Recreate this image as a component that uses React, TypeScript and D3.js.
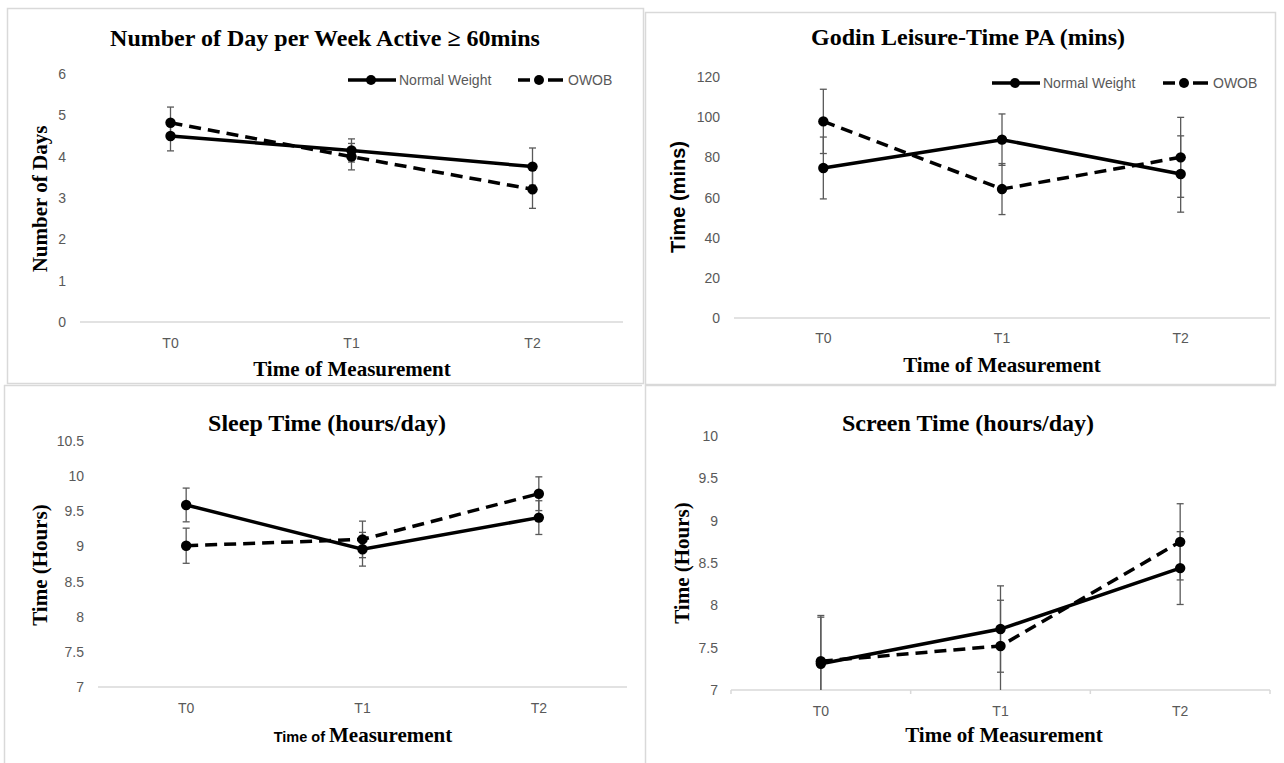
import * as d3 from "d3";

const timePoints = ["T0", "T1", "T2"];

const activeTicks = [0, 1, 2, 3, 4, 5, 6];
const activeNormal = [4.5, 4.15, 3.76];
const activeNormalErr = [0.36, 0.28, 0.45];
const activeOwob = [4.82, 4.0, 3.21];
const activeOwobErr = [0.38, 0.32, 0.46];

const godinTicks = [0, 20, 40, 60, 80, 100, 120];
const godinNormal = [74.7, 88.8, 71.7];
const godinNormalErr = [15.4, 12.8, 19.0];
const godinOwob = [97.9, 64.2, 80.0];
const godinOwobErr = [16.0, 12.7, 19.9];

const sleepTicks = [7, 7.5, 8, 8.5, 9, 9.5, 10, 10.5];
const sleepNormal = [9.59, 8.96, 9.41];
const sleepNormalErr = [0.24, 0.24, 0.24];
const sleepOwob = [9.01, 9.1, 9.75];
const sleepOwobErr = [0.25, 0.26, 0.24];

const screenTicks = [7, 7.5, 8, 8.5, 9, 9.5, 10];
const screenNormal = [7.31, 7.72, 8.44];
const screenNormalErr = [0.55, 0.51, 0.43];
const screenOwob = [7.34, 7.52, 8.75];
const screenOwobErr = [0.54, 0.54, 0.45];

const SERIF = "'Liberation Serif', 'Times New Roman', serif";
const SANS = "'Liberation Sans', Arial, sans-serif";
const GRID = "#d9d9d9";
const TICK_TEXT = "#595959";
const DASH = "12 7";

interface Series {
  values: number[];
  err: number[];
  dashed: boolean;
}

interface PanelProps {
  id: string;
  title: string;
  titleX: number;
  titleY: number;
  x0: number;
  x1: number;
  yBottom: number;
  yTop: number;
  ticks: number[];
  tickRight: number;
  xTickY: number;
  yTitle: string;
  yTitleFont: string;
  yTitleX: number;
  yTitleY: number;
  xTitleX: number;
  xTitleY: number;
  mixedXTitle?: boolean;
  tickMarks?: boolean;
  legend?: { y: number; nw: number; ow: number };
  series: Series[];
}

function Panel(p: PanelProps) {
  const x = d3.scalePoint<string>().domain(timePoints).range([p.x0, p.x1]).padding(0.5);
  const band = d3.scaleBand<string>().domain(timePoints).range([p.x0, p.x1]);
  const y = d3
    .scaleLinear()
    .domain([p.ticks[0], p.ticks[p.ticks.length - 1]])
    .range([p.yBottom, p.yTop]);
  const line = d3
    .line<number>()
    .x((_, i) => x(timePoints[i]) as number)
    .y((d) => y(d));

  return (
    <g>
      <defs>
        <clipPath id={`clip-${p.id}`}>
          <rect x={p.x0} y={p.yTop - 20} width={p.x1 - p.x0} height={p.yBottom - p.yTop + 20} />
        </clipPath>
      </defs>
      <text
        x={p.titleX}
        y={p.titleY}
        textAnchor="middle"
        fontFamily={SERIF}
        fontWeight="bold"
        fontSize={24}
      >
        {p.title}
      </text>

      {p.ticks.map((t) => (
        <text
          key={t}
          x={p.tickRight}
          y={y(t)}
          textAnchor="end"
          dominantBaseline="central"
          fontFamily={SANS}
          fontSize={14}
          fill={TICK_TEXT}
        >
          {t}
        </text>
      ))}

      <line x1={p.x0} x2={p.x1} y1={p.yBottom} y2={p.yBottom} stroke={GRID} strokeWidth={1.5} />
      {p.tickMarks &&
        [...timePoints.map((t) => band(t) as number), p.x1].map((bx, i) => (
          <line key={i} x1={bx} x2={bx} y1={p.yBottom} y2={p.yBottom + 4} stroke={GRID} strokeWidth={1.5} />
        ))}

      {timePoints.map((t) => (
        <text
          key={t}
          x={x(t)}
          y={p.xTickY}
          textAnchor="middle"
          fontFamily={SANS}
          fontSize={14}
          fill={TICK_TEXT}
        >
          {t}
        </text>
      ))}

      <g clipPath={`url(#clip-${p.id})`}>
        {p.series.map((s, si) =>
          s.values.map((v, i) => {
            const cx = x(timePoints[i]) as number;
            const hi = y(v + s.err[i]);
            const lo = y(v - s.err[i]);
            return (
              <g key={`${si}-${i}`} stroke="#595959" strokeWidth={1.3}>
                <line x1={cx} x2={cx} y1={hi} y2={lo} />
                <line x1={cx - 3.5} x2={cx + 3.5} y1={hi} y2={hi} />
                <line x1={cx - 3.5} x2={cx + 3.5} y1={lo} y2={lo} />
              </g>
            );
          })
        )}
        {p.series.map((s, si) => (
          <path
            key={si}
            d={line(s.values) ?? ""}
            fill="none"
            stroke="#000"
            strokeWidth={3.5}
            strokeDasharray={s.dashed ? DASH : undefined}
          />
        ))}
        {p.series.map((s, si) =>
          s.values.map((v, i) => (
            <circle key={`${si}-${i}`} cx={x(timePoints[i])} cy={y(v)} r={5.2} fill="#000" />
          ))
        )}
      </g>

      <text
        transform={`translate(${p.yTitleX},${p.yTitleY}) rotate(-90)`}
        textAnchor="middle"
        dominantBaseline="central"
        fontFamily={p.yTitleFont}
        fontWeight="bold"
        fontSize={p.yTitleFont === SANS ? 20 : 21}
      >
        {p.yTitle}
      </text>

      {p.mixedXTitle ? (
        <text x={p.xTitleX} y={p.xTitleY} textAnchor="middle" fontWeight="bold">
          <tspan fontFamily={SANS} fontSize={14.5}>
            Time of{" "}
          </tspan>
          <tspan fontFamily={SERIF} fontSize={21}>
            Measurement
          </tspan>
        </text>
      ) : (
        <text
          x={p.xTitleX}
          y={p.xTitleY}
          textAnchor="middle"
          fontFamily={SERIF}
          fontWeight="bold"
          fontSize={21}
        >
          Time of Measurement
        </text>
      )}

      {p.legend && (
        <g>
          <line x1={p.legend.nw} x2={p.legend.nw + 48} y1={p.legend.y} y2={p.legend.y} stroke="#000" strokeWidth={3.5} />
          <circle cx={p.legend.nw + 23} cy={p.legend.y} r={5} fill="#000" />
          <text x={p.legend.nw + 51} y={p.legend.y} dominantBaseline="central" fontFamily={SANS} fontSize={14} fill={TICK_TEXT}>
            Normal Weight
          </text>
          <line
            x1={p.legend.ow}
            x2={p.legend.ow + 45}
            y1={p.legend.y}
            y2={p.legend.y}
            stroke="#000"
            strokeWidth={3.5}
            strokeDasharray="12 10 0 8 15"
          />
          <circle cx={p.legend.ow + 21} cy={p.legend.y} r={5} fill="#000" />
          <text x={p.legend.ow + 50} y={p.legend.y} dominantBaseline="central" fontFamily={SANS} fontSize={14} fill={TICK_TEXT}>
            OWOB
          </text>
        </g>
      )}
    </g>
  );
}

export default function App() {
  return (
    <svg
      width={1284}
      height={763}
      style={{ position: "absolute", left: 0, top: 0, background: "#fff" }}
    >
      <rect width={1284} height={763} fill="#fff" />
      {/* panel frames */}
      <g fill="none" stroke={GRID} strokeWidth={1.5}>
        <rect x={7.5} y={8.5} width={636} height={375} />
        <rect x={645.5} y={12.5} width={630} height={372} />
        <line x1={4} x2={642} y1={385.5} y2={385.5} />
        <line x1={4.5} x2={4.5} y1={385} y2={763} />
        <line x1={645} x2={1276} y1={385.5} y2={385.5} />
        <line x1={645.5} x2={645.5} y1={385} y2={763} />
      </g>

      <Panel
        id="active"
        title="Number of Day per Week Active ≥ 60mins"
        titleX={325}
        titleY={46}
        x0={80}
        x1={623}
        yBottom={322}
        yTop={74}
        ticks={activeTicks}
        tickRight={66}
        xTickY={348}
        yTitle="Number of Days"
        yTitleFont={SERIF}
        yTitleX={40}
        yTitleY={199}
        xTitleX={352}
        xTitleY={376}
        legend={{ y: 80, nw: 348, ow: 518 }}
        series={[
          { values: activeNormal, err: activeNormalErr, dashed: false },
          { values: activeOwob, err: activeOwobErr, dashed: true },
        ]}
      />
      <Panel
        id="godin"
        title="Godin Leisure-Time PA (mins)"
        titleX={968}
        titleY={45}
        x0={734}
        x1={1270}
        yBottom={318}
        yTop={77}
        ticks={godinTicks}
        tickRight={720}
        xTickY={343}
        yTitle="Time (mins)"
        yTitleFont={SANS}
        yTitleX={678}
        yTitleY={197}
        xTitleX={1002}
        xTitleY={372}
        legend={{ y: 83, nw: 992, ow: 1163 }}
        series={[
          { values: godinNormal, err: godinNormalErr, dashed: false },
          { values: godinOwob, err: godinOwobErr, dashed: true },
        ]}
      />
      <Panel
        id="sleep"
        title="Sleep Time (hours/day)"
        titleX={327}
        titleY={431}
        x0={98}
        x1={627}
        yBottom={687}
        yTop={441}
        ticks={sleepTicks}
        tickRight={84}
        xTickY={713}
        yTitle="Time (Hours)"
        yTitleFont={SERIF}
        yTitleX={40}
        yTitleY={565}
        xTitleX={363}
        xTitleY={742}
        mixedXTitle
        series={[
          { values: sleepNormal, err: sleepNormalErr, dashed: false },
          { values: sleepOwob, err: sleepOwobErr, dashed: true },
        ]}
      />
      <Panel
        id="screen"
        title="Screen Time (hours/day)"
        titleX={968}
        titleY={431}
        x0={731}
        x1={1270}
        yBottom={690}
        yTop={436}
        ticks={screenTicks}
        tickRight={718}
        xTickY={716}
        yTitle="Time (Hours)"
        yTitleFont={SERIF}
        yTitleX={682}
        yTitleY={563}
        xTitleX={1004}
        xTitleY={742}
        tickMarks
        series={[
          { values: screenNormal, err: screenNormalErr, dashed: false },
          { values: screenOwob, err: screenOwobErr, dashed: true },
        ]}
      />
    </svg>
  );
}
